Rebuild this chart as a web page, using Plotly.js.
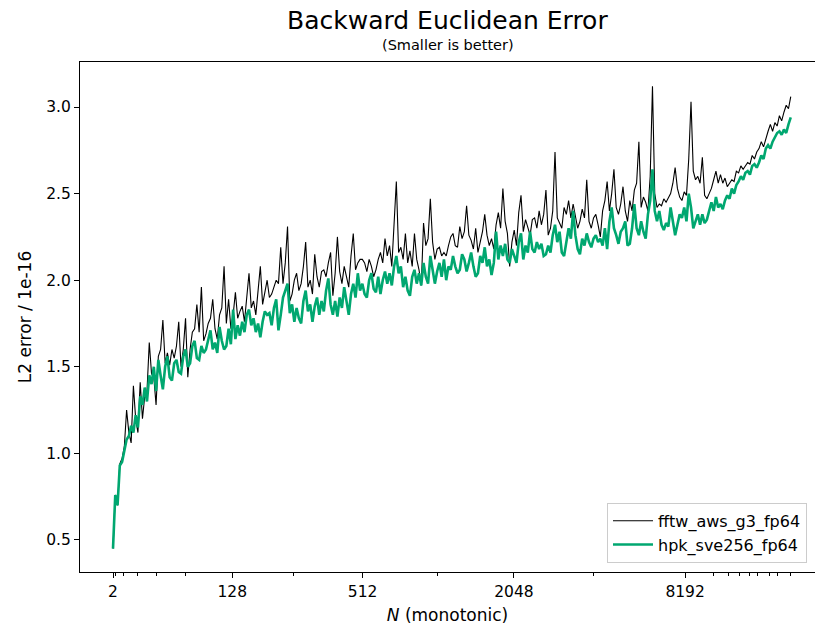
<!DOCTYPE html>
<html>
<head>
<meta charset="utf-8">
<script src="https://cdn.plot.ly/plotly-3.0.1.min.js"></script>
<style>html,body{margin:0;padding:0;background:#fff;}#chart{width:815px;height:630px;}</style>
</head>
<body>
<div id="chart"></div>
<script>
// Position of each measured size N along the (monotonic) x axis = its index in the sorted list of sizes
// Series values, L2 error in units of 1e-16
const fftw_aws_g3_fp64 = [
0.45,0.76,0.70,0.94,0.97,1.04,1.25,1.12,1.06,1.39,
1.20,1.12,1.41,1.20,1.33,1.36,1.64,1.46,1.44,1.28,
1.56,1.60,1.77,1.52,1.58,1.51,1.60,1.55,1.62,1.76,
1.50,1.60,1.78,1.44,1.60,1.70,1.72,1.86,1.70,1.96,
1.65,1.69,1.75,1.78,1.89,1.72,1.66,1.80,1.84,2.08,
1.75,1.89,1.72,1.80,1.93,1.78,1.82,1.85,1.76,1.90,
2.04,1.84,1.88,1.80,1.92,2.08,1.86,1.94,2.00,1.90,
1.92,1.96,2.00,1.98,2.19,1.98,2.10,2.31,1.88,1.92,
2.00,2.04,1.94,1.98,2.08,2.22,1.96,2.00,1.92,2.15,
2.02,1.96,2.05,2.06,2.02,2.10,2.16,1.91,2.04,2.25,
2.05,1.98,2.08,2.02,1.96,2.14,2.27,2.06,2.10,2.12,
2.12,2.10,2.05,2.12,2.08,2.02,2.06,2.12,2.16,2.10,
2.24,2.14,2.20,2.08,2.30,2.57,2.16,2.19,2.12,2.27,
2.10,2.17,2.08,2.27,2.12,2.06,1.97,2.33,2.20,2.24,
2.47,2.22,2.12,2.18,2.19,2.14,2.16,2.14,2.20,2.25,
2.27,2.20,2.19,2.31,2.24,2.28,2.43,2.26,2.23,2.18,
2.30,2.16,2.22,2.28,2.38,2.26,2.20,2.24,2.18,2.32,
2.39,2.30,2.53,2.34,2.27,2.08,2.22,2.29,2.20,2.39,
2.49,2.28,2.35,2.30,2.26,2.35,2.36,2.30,2.40,2.32,
2.38,2.52,2.26,2.30,2.40,2.74,2.36,2.33,2.30,2.42,
2.38,2.46,2.36,2.44,2.38,2.30,2.34,2.41,2.36,2.58,
2.34,2.30,2.36,2.38,2.32,2.25,2.40,2.46,2.57,2.40,
2.50,2.64,2.42,2.38,2.44,2.54,2.40,2.34,2.46,2.40,
2.52,2.56,2.80,2.42,2.48,2.45,2.40,2.60,3.12,2.50,
2.42,2.44,2.43,2.47,2.45,2.48,2.50,2.56,2.65,2.53,
2.48,2.46,2.51,2.49,2.70,3.03,2.63,2.58,2.60,2.56,
2.71,2.49,2.47,2.50,2.53,2.58,2.63,2.56,2.61,2.56,
2.59,2.54,2.56,2.58,2.57,2.63,2.62,2.66,2.64,2.66,
2.68,2.67,2.72,2.70,2.74,2.76,2.80,2.77,2.82,2.86,
2.90,2.86,2.91,2.89,2.95,2.92,2.97,3.01,2.99,3.06
];
const hpk_sve256_fp64 = [
0.45,0.76,0.70,0.93,0.95,1.02,1.08,1.10,1.16,1.12,
1.22,1.15,1.33,1.28,1.38,1.30,1.45,1.40,1.50,1.36,
1.54,1.45,1.37,1.50,1.56,1.44,1.42,1.52,1.54,1.47,
1.46,1.56,1.60,1.50,1.52,1.62,1.65,1.55,1.54,1.62,
1.58,1.60,1.66,1.71,1.60,1.64,1.58,1.73,1.65,1.60,
1.62,1.72,1.63,1.83,1.66,1.74,1.68,1.76,1.70,1.80,
1.83,1.74,1.78,1.70,1.75,1.67,1.76,1.82,1.80,1.81,
1.74,1.84,1.89,1.71,1.80,1.90,1.94,1.98,1.81,1.86,
1.76,1.84,1.78,1.75,1.88,1.94,1.82,1.86,1.76,1.85,
1.90,1.80,1.88,1.82,1.94,2.01,1.86,1.80,1.88,1.79,
1.90,1.84,1.96,1.87,1.80,1.92,1.98,1.90,2.04,1.94,
1.98,1.92,1.90,2.00,2.04,1.95,1.93,2.02,1.92,2.00,
2.05,1.98,2.04,1.97,2.08,2.14,2.04,2.08,1.96,2.02,
1.94,1.91,2.02,2.06,1.98,2.04,1.97,2.10,2.02,1.98,
2.14,2.06,1.98,2.05,2.10,2.02,2.12,2.00,2.08,2.06,
2.14,2.08,2.04,2.06,2.15,2.12,2.05,2.10,2.16,2.08,
2.02,2.04,2.14,2.10,2.19,2.08,2.12,2.03,2.10,2.28,
2.12,2.20,2.14,2.21,2.12,2.10,2.18,2.14,2.10,2.22,
2.27,2.12,2.20,2.16,2.28,2.18,2.16,2.22,2.18,2.21,
2.14,2.15,2.20,2.16,2.26,2.32,2.22,2.28,2.16,2.14,
2.22,2.30,2.24,2.40,2.26,2.18,2.15,2.24,2.20,2.27,
2.22,2.19,2.24,2.26,2.22,2.24,2.20,2.30,2.18,2.34,
2.42,2.30,2.26,2.21,2.28,2.30,2.34,2.20,2.21,2.30,
2.44,2.30,2.26,2.34,2.28,2.24,2.38,2.46,2.64,2.40,
2.34,2.40,2.32,2.29,2.33,2.31,2.42,2.34,2.26,2.32,
2.38,2.36,2.42,2.34,2.50,2.42,2.30,2.34,2.38,2.32,
2.38,2.33,2.35,2.40,2.45,2.40,2.48,2.42,2.44,2.41,
2.46,2.49,2.47,2.53,2.50,2.55,2.57,2.60,2.58,2.62,
2.63,2.61,2.66,2.67,2.65,2.68,2.72,2.70,2.76,2.78,
2.76,2.80,2.83,2.85,2.86,2.84,2.87,2.85,2.90,2.94
];
const sizeIndex = fftw_aws_g3_fp64.map((_, i) => i);

// x tick labels (N) and where those sizes fall in the sorted size list
const xTickLabels = ["2", "128", "512", "2048", "8192"];
const xTickIndex = [0, 52.6, 110.1, 176.9, 252.4];
const xMinorIndex = [1.3, 4.5, 10.9, 19.0, 32.2, 79.5, 143.2, 212.0, 264.8, 271.4, 276.6, 281.0, 284.5, 289.8, 293.3, 298.9];
const yTicks = [0.5, 1.0, 1.5, 2.0, 2.5, 3.0];

const FONT = "DejaVu Sans, Liberation Sans, sans-serif";

const traces = [
  {x: sizeIndex, y: fftw_aws_g3_fp64, type: "scatter", mode: "lines", name: "fftw_aws_g3_fp64",
   line: {color: "#000000", width: 1.1}},
  {x: sizeIndex, y: hpk_sve256_fp64, type: "scatter", mode: "lines", name: "hpk_sve256_fp64",
   line: {color: "#00a770", width: 2.6}}
];

const layout = {
  width: 815, height: 630,
  margin: {l: 80, r: 0, t: 62, b: 58},
  paper_bgcolor: "#ffffff", plot_bgcolor: "#ffffff",
  font: {family: FONT, color: "#000000", size: 15},
  showlegend: true,
  legend: {x: 0.717, y: 0.018, xanchor: "left", yanchor: "bottom",
           bgcolor: "rgba(255,255,255,0.8)", bordercolor: "#cccccc", borderwidth: 1,
           font: {family: FONT, size: 16, color: "#000000"}, itemwidth: 40, tracegroupgap: 0},
  xaxis: {
    range: [-14.56, 309.7], showgrid: false, zeroline: false,
    showline: true, linecolor: "#000000", linewidth: 1, mirror: true,
    ticks: "outside", ticklen: 5, tickwidth: 1, tickcolor: "#000000",
    tickmode: "array", tickvals: xTickIndex, ticktext: xTickLabels,
    tickfont: {family: FONT, size: 15.5},
    minor: {tickmode: "array", tickvals: xMinorIndex, ticks: "outside", ticklen: 3, tickwidth: 1, tickcolor: "#000000", showgrid: false},
    title: {text: "<i>N</i> (monotonic)", font: {family: FONT, size: 17}, standoff: 9}
  },
  yaxis: {
    range: [0.315, 3.26], showgrid: false, zeroline: false,
    showline: true, linecolor: "#000000", linewidth: 1, mirror: false,
    ticks: "outside", ticklen: 5, tickwidth: 1, tickcolor: "#000000",
    tickmode: "array", tickvals: yTicks, tickformat: ".1f",
    tickfont: {family: FONT, size: 15.5},
    title: {text: "L2 error / 1e-16", font: {family: FONT, size: 17}, standoff: 10}
  },
  annotations: [
    {text: "Backward Euclidean Error", xref: "paper", yref: "paper", x: 0.5, y: 1.0804,
     xanchor: "center", yanchor: "middle", showarrow: false, font: {family: FONT, size: 25, color: "#000000"}},
    {text: "(Smaller is better)", xref: "paper", yref: "paper", x: 0.5, y: 1.0333,
     xanchor: "center", yanchor: "middle", showarrow: false, font: {family: FONT, size: 14.5, color: "#000000"}}
  ]
};

Plotly.newPlot("chart", traces, layout, {displayModeBar: false, staticPlot: true});
</script>
</body>
</html>
